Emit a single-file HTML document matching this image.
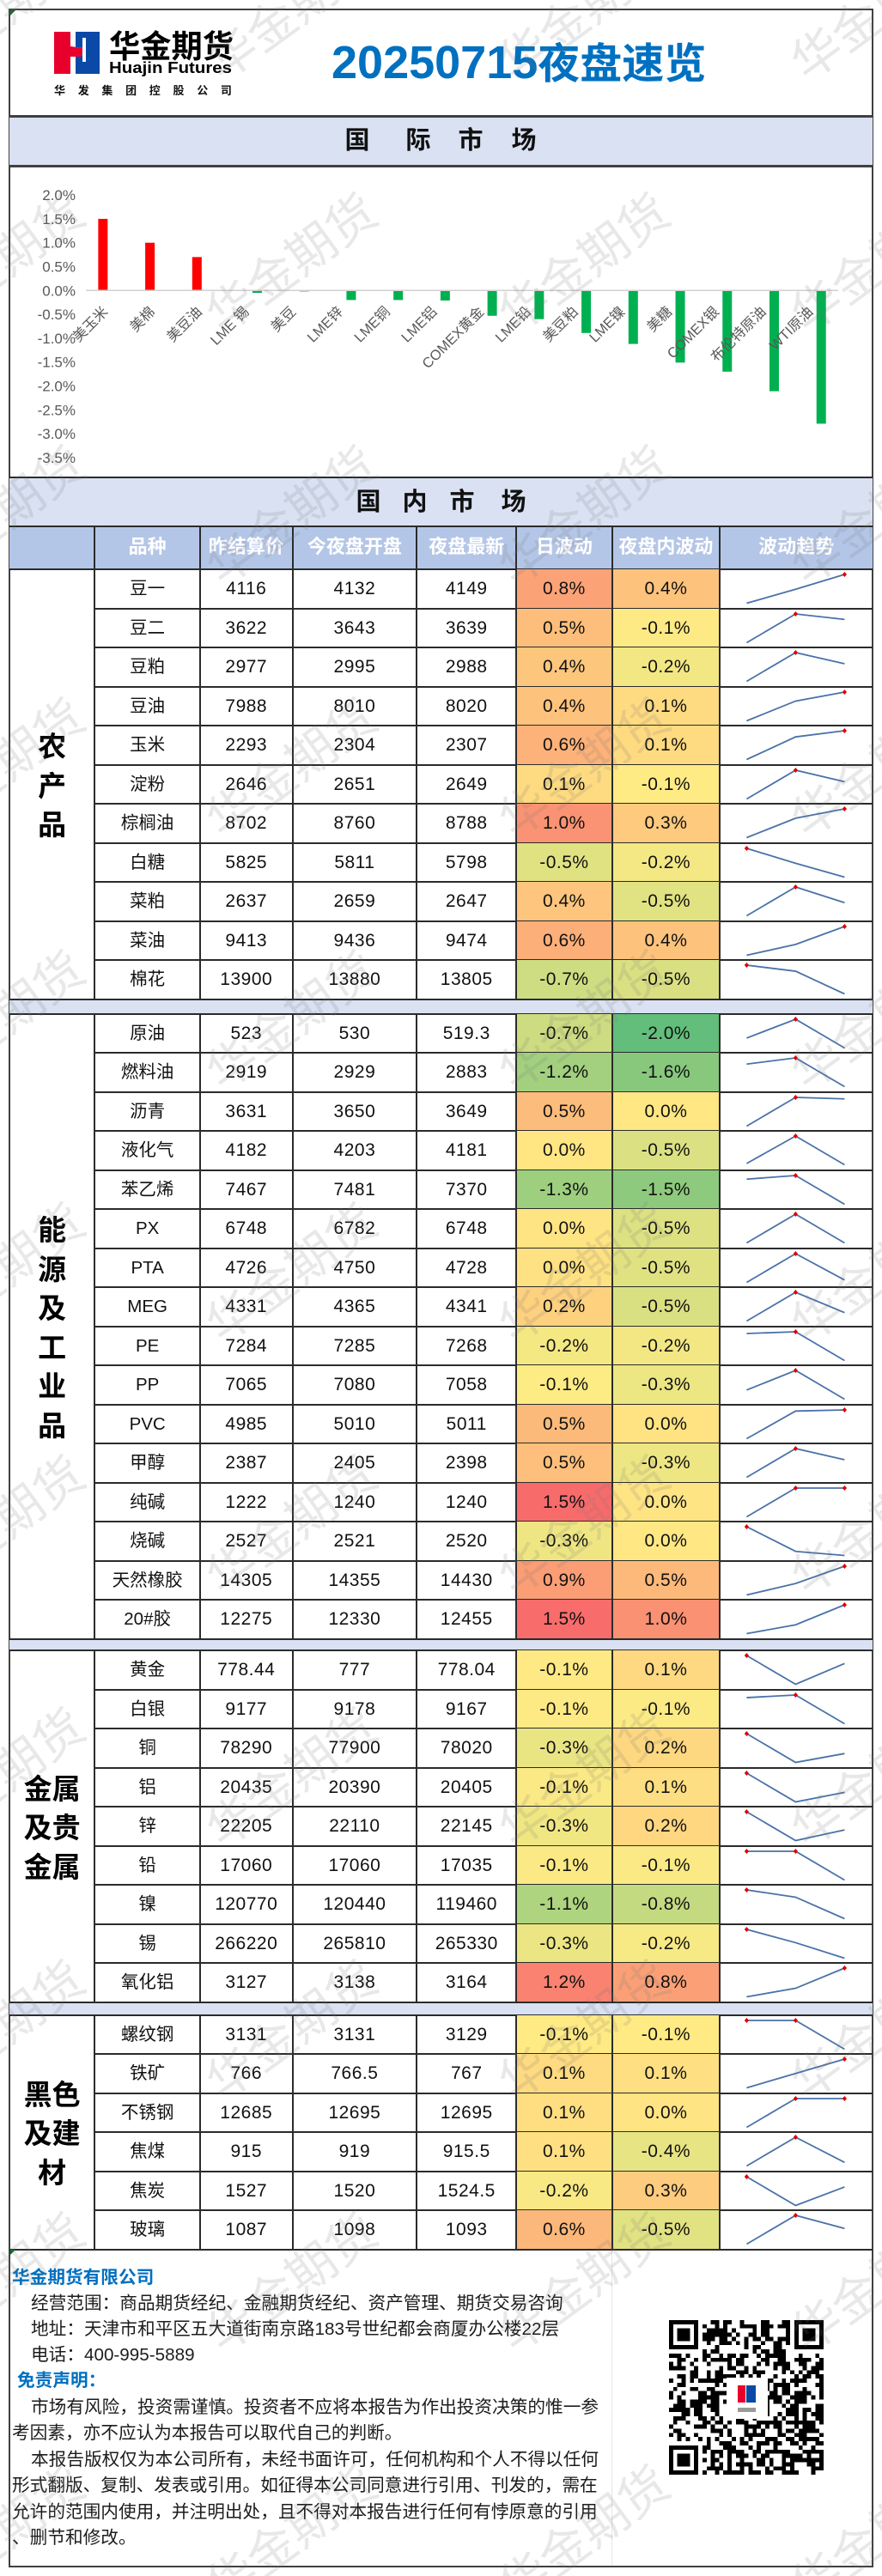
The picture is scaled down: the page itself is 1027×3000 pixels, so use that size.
<!DOCTYPE html>
<html lang="zh-CN">
<head>
<meta charset="utf-8">
<title>20250715夜盘速览</title>
<style>
html,body{margin:0;padding:0;background:#fff;}
#page{position:relative;width:1027px;height:3000px;overflow:hidden;background:#fff;font-family:"Liberation Sans","Noto Sans CJK SC",sans-serif;color:#111;}
.abs{position:absolute;}
.line{position:absolute;background:#2b2b2b;}
.band-ch{position:absolute;font-size:29px;font-weight:700;transform:translateX(-50%);line-height:30px;color:#111;}
.cell{position:absolute;text-align:center;white-space:nowrap;}
.foot{position:absolute;white-space:pre;font-size:20.66px;line-height:30px;color:#1c1c1c;}
svg{position:absolute;overflow:visible;}
</style>
</head>
<body>
<div id="page">

  <div class="line" style="left:10px;top:10px;width:1007px;height:2px;background:#404040"></div>
  <div class="line" style="left:10px;top:10px;width:2px;height:2980px;background:#404040"></div>
  <div class="line" style="left:1015px;top:10px;width:2px;height:2980px;background:#404040"></div>
  <div class="line" style="left:10px;top:2988px;width:1007px;height:2px;background:#404040"></div>

  <svg style="left:0;top:0" width="300" height="125">
    <rect x="63" y="37" width="24" height="49" fill="#e8002d"/>
    <rect x="88" y="37" width="28" height="49" fill="#0a4aa6"/>
    <polygon points="82,37 88,37 88,86 82,86 82,66 95,66 96,56 82,54" fill="#fff"/>
    <polygon points="82,54 96,56 95,66 82,66" fill="#e8002d"/>
    <rect x="96" y="44" width="4" height="28" fill="#fff"/>
    <text x="127" y="67" font-size="37" font-weight="700" fill="#000" textLength="145" lengthAdjust="spacingAndGlyphs" font-family="'Noto Sans CJK SC',sans-serif">华金期货</text>
    <text x="127" y="85" font-size="18" font-weight="700" fill="#000" textLength="143" lengthAdjust="spacingAndGlyphs" font-family="'Liberation Sans',sans-serif">Huajin Futures</text>
    <text x="63" y="110" font-size="13" font-weight="700" fill="#111" letter-spacing="14.7" font-family="'Noto Sans CJK SC',sans-serif">华发集团控股公司</text>
  </svg>

  <div class="abs" style="left:386px;top:40px;height:62px;line-height:62px;white-space:nowrap;color:#0070c0;font-weight:700;"><span style="font-size:54px">20250715</span><span style="font-size:49px;font-family:'Noto Sans CJK SC',sans-serif">夜盘速览</span></div>

  <div class="abs" style="left:11px;top:135px;width:1005px;height:58px;background:#d9e1f2;"></div>
  <div class="line" style="left:11px;top:134px;width:1005px;height:3px;background:#404040"></div>
  <div class="line" style="left:11px;top:192px;width:1005px;height:3px;background:#404040"></div>
  <div>
    <span class="band-ch" style="left:416px;top:149px">国</span><span class="band-ch" style="left:487px;top:149px">际</span><span class="band-ch" style="left:548px;top:149px">市</span><span class="band-ch" style="left:610px;top:149px">场</span>
  </div>

  <svg id="chart" style="left:0;top:0" width="1027" height="556"></svg>

  <div class="abs" style="left:11px;top:556px;width:1005px;height:57px;background:#d9e1f2;"></div>
  <div class="line" style="left:11px;top:555px;width:1005px;height:2px;"></div>
  <div>
    <span class="band-ch" style="left:429px;top:570px">国</span><span class="band-ch" style="left:483px;top:570px">内</span><span class="band-ch" style="left:538px;top:570px">市</span><span class="band-ch" style="left:598px;top:570px">场</span>
  </div>

  <div class="abs" style="left:11px;top:613px;width:1005px;height:50px;background:#b4c6e7;"></div>

  <div id="table"></div>

  <div class="abs" style="left:712px;top:2621px;width:1px;height:367px;background:#e6e6e6"></div>
  <div class="abs" style="left:12px;top:2620px;width:0;height:0;border-top:6px solid #0a6b1e;border-right:6px solid transparent;"></div>
  <div class="abs" style="left:12px;top:12px;width:0;height:0;border-top:6px solid #0a6b1e;border-right:6px solid transparent;"></div>

  <div>
    <div class="foot" style="left:14px;top:2638px;font-weight:700;color:#0070c0">华金期货有限公司</div>
    <div class="foot" style="left:36px;top:2668px">经营范围：商品期货经纪、金融期货经纪、资产管理、期货交易咨询</div>
    <div class="foot" style="left:36px;top:2698px">地址：天津市和平区五大道街南京路183号世纪都会商厦办公楼22层</div>
    <div class="foot" style="left:36px;top:2728px">电话：400-995-5889</div>
  </div>
  <div>
    <div class="foot" style="left:20px;top:2758px;font-weight:700;color:#0070c0">免责声明：</div>
    <div class="foot" style="left:36px;top:2789px">市场有风险，投资需谨慎。投资者不应将本报告为作出投资决策的惟一参</div>
    <div class="foot" style="left:14px;top:2819px">考因素，亦不应认为本报告可以取代自己的判断。</div>
    <div class="foot" style="left:36px;top:2850px">本报告版权仅为本公司所有，未经书面许可，任何机构和个人不得以任何</div>
    <div class="foot" style="left:14px;top:2880px">形式翻版、复制、发表或引用。如征得本公司同意进行引用、刊发的，需在</div>
    <div class="foot" style="left:14px;top:2911px">允许的范围内使用，并注明出处，且不得对本报告进行任何有悖原意的引用</div>
    <div class="foot" style="left:14px;top:2941px">、删节和修改。</div>
  </div>

  <svg id="qr" style="left:779px;top:2702px" width="181" height="181" shape-rendering="crispEdges"></svg>

  <svg id="watermark" style="left:0;top:0;pointer-events:none" width="1027" height="3000"></svg>
</div>

<script>
/* ---------- international market chart data ---------- */
var chartCategories = ['美玉米','美棉','美豆油','LME 锡','美豆','LME锌','LME铜','LME铝','COMEX黄金','LME铅','美豆粕','LME镍','美糖','COMEX银','布伦特原油','WTI原油'];
var chartGains = [1.5,1.0,0.7,0,0,0,0,0,0,0,0,0,0,0,0,0];
var chartLosses = [0,0,0,-0.05,-0.02,-0.2,-0.2,-0.21,-0.53,-0.6,-0.89,-1.12,-1.51,-1.7,-2.11,-2.79];
var chartTicks = [2.0,1.5,1.0,0.5,0.0,-0.5,-1.0,-1.5,-2.0,-2.5,-3.0,-3.5];

/* ---------- domestic market table data ---------- */
var agriNames = ['豆一','豆二','豆粕','豆油','玉米','淀粉','棕榈油','白糖','菜粕','菜油','棉花'];
var agriPrev = [4116,3622,2977,7988,2293,2646,8702,5825,2637,9413,13900];
var agriOpen = [4132,3643,2995,8010,2304,2651,8760,5811,2659,9436,13880];
var agriLast = [4149,3639,2988,8020,2307,2649,8788,5798,2647,9474,13805];

var energyNames = ['原油','燃料油','沥青','液化气','苯乙烯','PX','PTA','MEG','PE','PP','PVC','甲醇','纯碱','烧碱','天然橡胶','20#胶'];
var energyPrev = [523,2919,3631,4182,7467,6748,4726,4331,7284,7065,4985,2387,1222,2527,14305,12275];
var energyOpen = [530,2929,3650,4203,7481,6782,4750,4365,7285,7080,5010,2405,1240,2521,14355,12330];
var energyLast = [519.3,2883,3649,4181,7370,6748,4728,4341,7268,7058,5011,2398,1240,2520,14430,12455];

var metalNames = ['黄金','白银','铜','铝','锌','铅','镍','锡','氧化铝'];
var metalPrev = [778.44,9177,78290,20435,22205,17060,120770,266220,3127];
var metalOpen = [777,9178,77900,20390,22110,17060,120440,265810,3138];
var metalLast = [778.04,9167,78020,20405,22145,17035,119460,265330,3164];

var blackNames = ['螺纹钢','铁矿','不锈钢','焦煤','焦炭','玻璃'];
var blackPrev = [3131,766,12685,915,1527,1087];
var blackOpen = [3131,766.5,12695,919,1520,1098];
var blackLast = [3129,767,12695,915.5,1524.5,1093];

var headerLabels = ['品种','昨结算价','今夜盘开盘','夜盘最新','日波动','夜盘内波动','波动趋势'];

var SVGNS = 'http://www.w3.org/2000/svg';
function sv(tag, parent, attrs, text){
  var n = document.createElementNS(SVGNS, tag);
  for (var k in attrs) n.setAttribute(k, attrs[k]);
  if (text !== undefined) n.textContent = text;
  parent.appendChild(n);
  return n;
}
function dv(parent, cls, css, text){
  var n = document.createElement('div');
  if (cls) n.className = cls;
  n.style.cssText = css;
  if (text !== undefined) n.textContent = text;
  parent.appendChild(n);
  return n;
}

/* ---------- chart ---------- */
(function(){
  var svg = document.getElementById('chart');
  var plotLeft = 100.2, plotRight = 975.9, zeroY = 338.3, pxPerUnit = 55.6;
  var band = (plotRight - plotLeft) / chartCategories.length;
  var barW = 11, offset = 7.7;
  function xCenter(i){ return plotLeft + band * (i + 0.5); }
  function yVal(v){ return zeroY - v * pxPerUnit; }

  chartTicks.forEach(function(t){
    var lab = sv('text', svg, {x:88, y:yVal(t)+6, 'text-anchor':'end', 'font-size':17, fill:'#595959'}, t.toFixed(1) + '%');
    
    
  });

  chartGains.forEach(function(v, i){
    if (v === 0) return;
    var r = sv('rect', svg, {x:xCenter(i)-offset-barW/2, y:yVal(v), width:barW, height:yVal(0)-yVal(v), fill:'#ff0000'});
    
    
  });
  chartLosses.forEach(function(v, i){
    if (v === 0) return;
    var r = sv('rect', svg, {x:xCenter(i)+offset-barW/2, y:yVal(0), width:barW, height:yVal(v)-yVal(0), fill:'#00b050'});
    
    
  });

  var axis = sv('line', svg, {x1:plotLeft, x2:plotRight, y1:yVal(0), y2:yVal(0), stroke:'#d0d0d0', 'stroke-width':1.5});
  
  

  chartCategories.forEach(function(c, i){
    var bx = xCenter(i) - 1, by = 364;
    var lab = sv('text', svg, {x:bx, y:by, 'text-anchor':'end', 'font-size':16.5, fill:'#595959', transform:'rotate(-45 '+bx+' '+by+')'}, c);
    
    
  });
})();

/* ---------- table ---------- */
(function(){
  var host = document.getElementById('table');
  var colX = [11,110.3,233,340.5,485.3,601.2,712.6,838.3,1016];
  var ROW_H = 45.5;
  var groups = [
    {title:['农','产','品'], names:agriNames, prev:agriPrev, open:agriOpen, last:agriLast, gapAfter:17},
    {title:['能','源','及','工','业','品'], names:energyNames, prev:energyPrev, open:energyOpen, last:energyLast, gapAfter:13.5},
    {title:['金属','及贵','金属'], names:metalNames, prev:metalPrev, open:metalOpen, last:metalLast, gapAfter:15},
    {title:['黑色','及建','材'], names:blackNames, prev:blackPrev, open:blackOpen, last:blackLast, gapAfter:0}
  ];

  var MIN=-2.02, MID=-0.08, MAX=1.5;
  function mix(a,b,t){ return Math.round(a+(b-a)*t); }
  function heat(p){
    var lo=[99,190,123], mid=[255,235,132], hi=[248,105,107], c;
    if (p>=MID){ var t=Math.min(1,(p-MID)/(MAX-MID)); c=[mix(mid[0],hi[0],t),mix(mid[1],hi[1],t),mix(mid[2],hi[2],t)]; }
    else { var u=Math.min(1,(MID-p)/(MID-MIN)); c=[mix(mid[0],lo[0],u),mix(mid[1],lo[1],u),mix(mid[2],lo[2],u)]; }
    return 'rgb('+c.join(',')+')';
  }
  function pctText(p){
    var s = p.toFixed(1);
    if (s === '-0.0') s = '0.0';
    return s + '%';
  }
  function vline(x, top, h){
    var l = dv(host, 'line', 'left:'+(x-1)+'px;top:'+top+'px;width:2px;height:'+h+'px');
    
    
  }
  function hline(y, left){
    var x0 = left === undefined ? 11 : left;
    var l = dv(host, 'line', 'left:'+x0+'px;top:'+(y-1)+'px;width:'+(1016-x0)+'px;height:2px');
    
    
  }

  /* header */
  headerLabels.forEach(function(t, i){
    var c = dv(host, 'cell', 'left:'+colX[i+1]+'px;top:613px;width:'+(colX[i+2]-colX[i+1])+'px;height:50px;line-height:48px;color:#fff;font-weight:700;font-size:22px;', t);
    
    
  });
  hline(613); hline(663);
  for (var h=1;h<colX.length-1;h++) vline(colX[h], 613, 50);

  var y = 663;
  groups.forEach(function(g){
    var top0 = y, n = g.names.length;
    var cat = dv(host, 'cell', 'left:11px;width:99.3px;top:'+(top0 + n*ROW_H/2 - g.title.length*ROW_H/2)+'px;line-height:'+ROW_H+'px;font-size:33px;font-weight:700;color:#000;font-family:\"Noto Sans CJK SC\",sans-serif;');
    
    
    g.title.forEach(function(tx){
      var ln = dv(cat, '', '', tx);
      
      
    });

    g.names.forEach(function(name, i){
      var rt = top0 + i*ROW_H;
      var p0 = g.prev[i], p1 = g.open[i], p2 = g.last[i];
      var dayPct = (p2/p0-1)*100, nightPct = (p2/p1-1)*100;
      var base = 'top:'+rt+'px;height:'+ROW_H+'px;line-height:'+ROW_H+'px;';

      var values = [name, p0, p1, p2];
      values.forEach(function(v, k){
        var isName = k === 0;
        var c = dv(host, 'cell', base+'left:'+colX[k+1]+'px;width:'+(colX[k+2]-colX[k+1])+'px;'+(isName?'font-size:20.5px;':'font-size:21px;letter-spacing:.5px;'), String(v));
        
        
      });

      var d = dv(host, 'cell', base+'left:'+colX[5]+'px;width:'+(colX[6]-colX[5])+'px;font-size:21px;letter-spacing:.5px;background:'+heat(dayPct)+';', pctText(dayPct));
      
      
      var m = dv(host, 'cell', base+'left:'+colX[6]+'px;width:'+(colX[7]-colX[6])+'px;font-size:21px;letter-spacing:.5px;background:'+heat(nightPct)+';', pctText(nightPct));
      
      

      /* sparkline */
      var s = document.createElementNS(SVGNS, 'svg');
      s.style.cssText = 'left:'+colX[7]+'px;top:'+rt+'px;';
      s.setAttribute('width', colX[8]-colX[7]);
      s.setAttribute('height', ROW_H);
      
      
      host.appendChild(s);
      var series = [p0,p1,p2];
      var lo = Math.min.apply(null, series), hi = Math.max.apply(null, series);
      function sx(idx){ return 31.4 + idx*57; }
      function sy(val){ return 39.5 - (hi===lo ? 0.5 : (val-lo)/(hi-lo))*33.5; }
      sv('polyline', s, {points:series.map(function(v,idx){return sx(idx)+','+sy(v);}).join(' '), fill:'none', stroke:'#4a72a8', 'stroke-width':1.8});
      series.forEach(function(v, idx){
        if (v === hi){
          var cx = sx(idx), cy = sy(v);
          sv('polygon', s, {points:cx+','+(cy-3)+' '+(cx+2.6)+','+cy+' '+cx+','+(cy+3)+' '+(cx-2.6)+','+cy, fill:'#e00000'});
        }
      });
      if (i < n-1) hline(rt+ROW_H, colX[1]);
    });

    var bottom = top0 + n*ROW_H;
    for (var v=1;v<colX.length-1;v++) vline(colX[v], top0, n*ROW_H);
    hline(bottom);

    if (g.gapAfter){
      var band = dv(host, 'abs', 'left:11px;width:1005px;top:'+(bottom+1)+'px;height:'+(g.gapAfter-1)+'px;background:#d9e1f2;');
      
      
      hline(bottom+g.gapAfter);
    }
    y = bottom + g.gapAfter;
  });
})();

/* ---------- QR decoration ---------- */
(function(){
  var svg = document.getElementById('qr');
  var N = 37, M = 180/37, seed = 0x5A3C1;
  function next(){ seed ^= seed<<13; seed &= 0xffffffff; seed ^= seed>>>17; seed ^= seed<<5; seed &= 0xffffffff; return (seed>>>0)%100; }
  function inFinder(r,c){ return (r<8&&c<8)||(r<8&&c>=N-8)||(r>=N-8&&c<8); }
  var d = '';
  for (var r=0;r<N;r++) for (var c=0;c<N;c++){
    var on = next() < 52;
    if (inFinder(r,c)) continue;
    if (on) d += 'M'+(c*M)+' '+(r*M)+'h'+M+'v'+M+'h-'+M+'z';
  }
  sv('path', svg, {d:d, fill:'#000'});
  [[0,0],[0,N-7],[N-7,0]].forEach(function(p){
    var x=p[1]*M, y=p[0]*M;
    sv('path', svg, {d:'M'+x+' '+y+'h'+(7*M)+'v'+(7*M)+'h-'+(7*M)+'zM'+(x+M)+' '+(y+M)+'v'+(5*M)+'h'+(5*M)+'v-'+(5*M)+'zM'+(x+2*M)+' '+(y+2*M)+'h'+(3*M)+'v'+(3*M)+'h-'+(3*M)+'z', fill:'#000', 'fill-rule':'evenodd'});
  });
  sv('rect', svg, {x:67, y:67, width:48, height:48, fill:'#fff'});
  sv('rect', svg, {x:80, y:76, width:9, height:20, fill:'#e8002d'});
  sv('rect', svg, {x:90, y:76, width:11, height:20, fill:'#0a4aa6'});
  sv('rect', svg, {x:80, y:102, width:21, height:5, fill:'#9a9a9a'});
})();

/* ---------- watermark ---------- */
(function(){
  var svg = document.getElementById('watermark');
  for (var r=-1;r<11;r++){
    for (var c=-1;c<3;c++){
      var x = 259 + 340.5*c, y = 96 + 294*r;
      var t = sv('text', svg, {x:0, y:0, 'font-size':57, fill:'rgba(120,120,120,0.17)', transform:'translate('+x+' '+y+') rotate(-36)', 'font-family':"'Noto Sans CJK SC',sans-serif"}, '华金期货');
      
      
    }
  }
})();
</script>
</body>
</html>
